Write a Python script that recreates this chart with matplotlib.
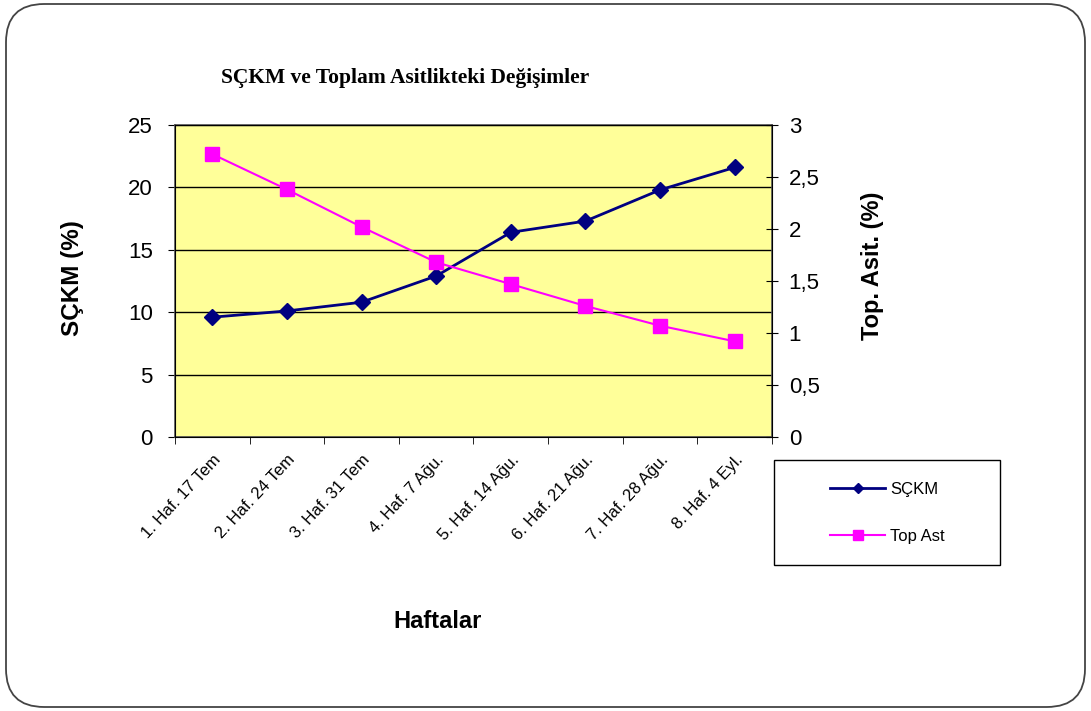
import matplotlib.pyplot as plt
from matplotlib.patches import FancyBboxPatch, Rectangle
from matplotlib.ticker import FuncFormatter, FixedLocator

# DATA
weeks = ["1. Haf. 17 Tem", "2. Haf. 24 Tem", "3. Haf. 31 Tem", "4. Haf. 7 Ağu.",
         "5. Haf. 14 Ağu.", "6. Haf. 21 Ağu.", "7. Haf. 28 Ağu.", "8. Haf. 4 Eyl."]
sckm = [9.6, 10.1, 10.8, 12.9, 16.4, 17.3, 19.8, 21.6]
top_ast = [2.72, 2.38, 2.02, 1.68, 1.47, 1.26, 1.07, 0.92]

W, H = 1091, 711
fig = plt.figure(figsize=(W / 100, H / 100), dpi=100)
plt.rcParams['font.family'] = ['Liberation Sans', 'DejaVu Sans']

# rounded frame round the whole picture
frame = FancyBboxPatch((6 / W, 4 / H), 1 - 12 / W, 1 - 8 / H,
                       boxstyle="round,pad=0,rounding_size=0.035",
                       mutation_aspect=W / H,
                       transform=fig.transFigure, fill=False,
                       edgecolor="#444444", linewidth=1.3)
fig.patches.append(frame)

ax = fig.add_axes([175 / W, 1 - 437 / H, (772 - 175) / W, (437 - 125) / H])
ax.set_facecolor("#FFFF99")
x = list(range(len(weeks)))

ax.plot(x, sckm, color="#000080", linewidth=2, marker="D", markersize=8,
        label="SÇKM", zorder=3)
ax.set_xlim(-0.5, len(weeks) - 0.5)
ax.set_ylim(0, 25)
ax.set_yticks([0, 5, 10, 15, 20, 25])
ax.yaxis.grid(True, color="black", linewidth=1)
ax.set_axisbelow(True)
ax.tick_params(axis="y", labelsize=16, direction="out", length=5, pad=11)
ax.set_xticks(x)
ax.set_xticklabels(weeks, rotation=47, ha="right", rotation_mode="anchor", fontsize=12)
ax.tick_params(axis="x", length=0, pad=11)
ax.xaxis.set_minor_locator(FixedLocator([i - 0.5 for i in range(len(weeks) + 1)]))
ax.tick_params(axis="x", which="minor", length=5, direction="out")
for s in ax.spines.values():
    s.set_color("#555555")
    s.set_linewidth(1.2)

ax2 = ax.twinx()
ax2.plot(x, top_ast, color="#FF00FF", linewidth=1.5, marker="s", markersize=10.5,
         label="Top Ast", zorder=3)
ax2.set_ylim(0, 3)
ax2.set_yticks([0, 0.5, 1, 1.5, 2, 2.5, 3])
ax2.yaxis.set_major_formatter(FuncFormatter(lambda v, p: ("%g" % v).replace(".", ",")))
ax2.tick_params(axis="y", labelsize=16, direction="inout", length=8, pad=8)

# axis titles
fig.text(73 / W, 1 - 278 / H, "SÇKM (%)", rotation=90, fontsize=17.5,
         fontweight="bold", ha="center", va="center")
fig.text(872 / W, 1 - 266 / H, "Top. Asit. (%)", rotation=90, fontsize=17,
         fontweight="bold", ha="center", va="center")
fig.text(438 / W, 1 - 622 / H, "Haftalar", fontsize=17, fontweight="bold",
         ha="center", va="center")
fig.text(405 / W, 1 - 78 / H, "SÇKM ve Toplam Asitlikteki Değişimler",
         family=["Liberation Serif", "DejaVu Serif"], fontweight="bold",
         fontsize=15.5, ha="center", va="center")

# legend box
fig.patches.append(Rectangle((774 / W, 1 - 565 / H), (1000 - 774) / W, (565 - 460) / H,
                             transform=fig.transFigure, fill=False,
                             edgecolor="black", linewidth=1))
h1, l1 = ax.get_legend_handles_labels()
h2, l2 = ax2.get_legend_handles_labels()
fig.legend(h1 + h2, l1 + l2, loc="center left",
           bbox_to_anchor=(830 / W, 1 - 513 / H), fontsize=12, frameon=False,
           labelspacing=1.95, handlelength=3.3, handletextpad=0.3,
           markerscale=0.7, borderaxespad=0, borderpad=0)

fig.savefig("out.png", dpi=100)
